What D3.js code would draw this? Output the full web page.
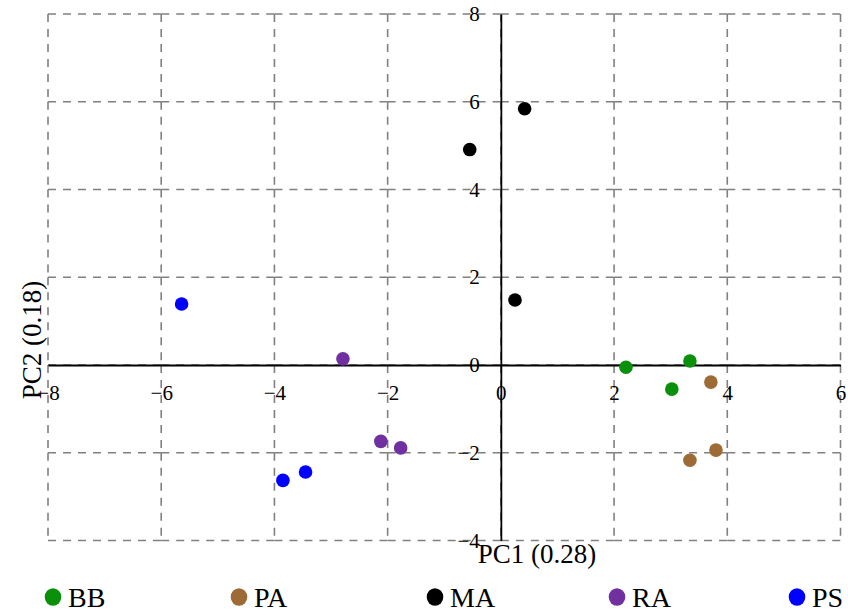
<!DOCTYPE html>
<html>
<head>
<meta charset="utf-8">
<script src="https://cdn.jsdelivr.net/npm/d3@7"></script>
<style>
  body { margin: 0; background: #fff; }
</style>
</head>
<body>
<svg id="chart" width="848" height="615"></svg>
<script>
// groups and their colours
var groups = ['BB', 'PA', 'MA', 'RA', 'PS'];
var groupColors = ['#0a900a', '#9e6a36', '#000000', '#7030a0', '#0000ff'];

// PC1 / PC2 scores per group
var bbPC1 = [2.21, 3.34, 3.02];
var bbPC2 = [-0.05, 0.09, -0.55];
var paPC1 = [3.71, 3.80, 3.34];
var paPC2 = [-0.39, -1.94, -2.17];
var maPC1 = [0.42, -0.55, 0.25];
var maPC2 = [5.84, 4.91, 1.48];
var raPC1 = [-2.79, -2.12, -1.77];
var raPC2 = [0.14, -1.74, -1.89];
var psPC1 = [-5.64, -3.85, -3.45];
var psPC2 = [1.39, -2.63, -2.44];

var xTicks = [-8, -6, -4, -2, 0, 2, 4, 6];
var yTicks = [-4, -2, 0, 2, 4, 6, 8];
var xTitle = 'PC1 (0.28)';
var yTitle = 'PC2 (0.18)';

var pc1 = [bbPC1, paPC1, maPC1, raPC1, psPC1];
var pc2 = [bbPC2, paPC2, maPC2, raPC2, psPC2];

// legend item x positions (layout only)
var legendPos = [53, 239, 435, 617, 797];

var FONT = '"Liberation Serif"';

var points = [];
groups.forEach(function(g, i) {
  pc1[i].forEach(function(v, j) {
    points.push({group: g, color: groupColors[i], x: v, y: pc2[i][j]});
  });
});

var svg = d3.select('#chart');

var xScale = d3.scaleLinear().domain([-8, 6]).range([48, 840.5]);
var yScale = d3.scaleLinear().domain([-4, 8]).range([540.5, 14]);

// dashed grid, drawn cell by cell so the dash pattern restarts at each line
var grid = svg.append('g').attr('class', 'grid');
yTicks.forEach(function(ty) {
  for (var k = 0; k < xTicks.length - 1; k++) {
    grid.append('line')
      .attr('x1', xScale(xTicks[k])).attr('x2', xScale(xTicks[k + 1]))
      .attr('y1', yScale(ty)).attr('y2', yScale(ty));
  }
});
xTicks.forEach(function(tx) {
  for (var k = 0; k < yTicks.length - 1; k++) {
    grid.append('line')
      .attr('x1', xScale(tx)).attr('x2', xScale(tx))
      .attr('y1', yScale(yTicks[k + 1])).attr('y2', yScale(yTicks[k]));
  }
});
grid.selectAll('line')
  .attr('stroke', '#808080')
  .attr('stroke-width', 1.6)
  .attr('stroke-dasharray', '8,7')
  .attr('fill', 'none');

// axes through the origin
var xAxis = d3.axisBottom(xScale).tickValues(xTicks).tickSizeInner(0).tickSizeOuter(0).tickPadding(20);
var yAxis = d3.axisLeft(yScale).tickValues(yTicks).tickSizeInner(0).tickSizeOuter(0).tickPadding(21);

var gx = svg.append('g')
  .attr('transform', 'translate(0,' + yScale(0) + ')')
  .call(xAxis);
var gy = svg.append('g')
  .attr('transform', 'translate(' + xScale(0) + ',0)')
  .call(yAxis);

[gx, gy].forEach(function(g) {
  g.attr('font-family', null).attr('font-size', null);
  g.select('.domain').attr('stroke', '#000').attr('stroke-width', 1.8);
  g.selectAll('.tick text')
    .attr('fill', '#000')
    .style('font-family', FONT)
    .style('font-size', '21px');
});

// axis titles
svg.append('text')
  .attr('x', 537)
  .attr('y', 563)
  .attr('text-anchor', 'middle')
  .style('font-family', FONT)
  .style('font-size', '27px')
  .text(xTitle);

svg.append('text')
  .attr('transform', 'translate(41,340) rotate(-90)')
  .attr('text-anchor', 'middle')
  .style('font-family', FONT)
  .style('font-size', '27px')
  .text(yTitle);

// points
svg.append('g')
  .selectAll('circle')
  .data(points)
  .enter()
  .append('circle')
  .attr('cx', function(d) { return xScale(d.x); })
  .attr('cy', function(d) { return yScale(d.y); })
  .attr('r', 6.8)
  .attr('fill', function(d) { return d.color; });

// legend
var legend = svg.append('g')
  .selectAll('g')
  .data(groups)
  .enter()
  .append('g')
  .attr('transform', function(d, i) { return 'translate(' + legendPos[i] + ',597)'; });

legend.append('ellipse')
  .attr('rx', 8.3)
  .attr('ry', 8.8)
  .attr('fill', function(d, i) { return groupColors[i]; });

legend.append('text')
  .attr('x', 15)
  .attr('y', 10)
  .style('font-family', FONT)
  .style('font-size', '28px')
  .text(function(d) { return d; });
</script>
</body>
</html>
